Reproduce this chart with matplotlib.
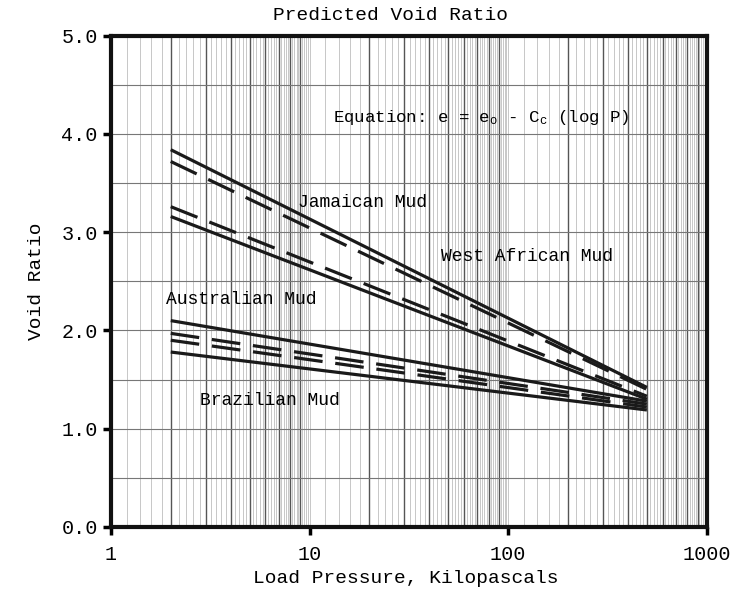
import numpy as np
import matplotlib
matplotlib.use("Agg")
import matplotlib.pyplot as plt
from matplotlib.ticker import FixedLocator, NullFormatter

plt.rcParams['font.family'] = ['Liberation Mono', 'DejaVu Sans Mono']
plt.rcParams['mathtext.fontset'] = 'custom'
plt.rcParams['mathtext.rm'] = 'Liberation Mono'
plt.rcParams['mathtext.it'] = 'Liberation Mono'

# Load pressure range (kPa) for each line
pressure = [2, 500]

# Upper group (Jamaican / West African mud): void ratio at start and end pressure
jam_solid = [3.84, 1.42]
jam_dashed = [3.72, 1.40]
wa_dashed = [3.26, 1.33]
wa_solid = [3.16, 1.30]

# Lower group (Australian / Brazilian mud)
aus_solid = [2.10, 1.28]
aus_dashed = [1.97, 1.25]
bra_dashed = [1.90, 1.22]
bra_solid = [1.78, 1.19]

x_ticks = [1, 10, 100, 1000]
x_ticklabels = ["1", "10", "100", "1000"]
y_ticks = [0, 1, 2, 3, 4, 5]
y_ticklabels = ["0.0", "1.0", "2.0", "3.0", "4.0", "5.0"]

fig = plt.figure(figsize=(7.3, 5.96), dpi=100)
ax = fig.add_axes([0.152, 0.116, 0.816, 0.824])
ax.set_xscale('log')
ax.set_xlim(1, 1000)
ax.set_ylim(0, 5)

# semi-log graph paper grid
fine = []
for dec in [1, 10, 100]:
    for v in np.arange(1.0, 10.0, 0.2):
        fine.append(dec * v)
for f in fine:
    ax.axvline(f, color='#b0b0b0', lw=0.5, zorder=0)
for dec in [1, 10, 100]:
    for m in range(2, 10):
        ax.axvline(dec * m, color='#555555', lw=1.0, zorder=0)
for h in np.arange(0.5, 5.0, 0.5):
    ax.axhline(h, color='#777777', lw=0.8, zorder=0)

lw = 2.3
dash = (0, (9, 4))
ax.plot(pressure, jam_solid, color='#1a1a1a', lw=lw, solid_capstyle='butt')
ax.plot(pressure, jam_dashed, color='#1a1a1a', lw=lw, linestyle=dash)
ax.plot(pressure, wa_dashed, color='#1a1a1a', lw=lw, linestyle=dash)
ax.plot(pressure, wa_solid, color='#1a1a1a', lw=lw, solid_capstyle='butt')
ax.plot(pressure, aus_solid, color='#1a1a1a', lw=lw, solid_capstyle='butt')
ax.plot(pressure, aus_dashed, color='#1a1a1a', lw=lw, linestyle=dash)
ax.plot(pressure, bra_dashed, color='#1a1a1a', lw=lw, linestyle=dash)
ax.plot(pressure, bra_solid, color='#1a1a1a', lw=lw, solid_capstyle='butt')

fs = 13
ax.text(8.7, 3.30, "Jamaican Mud", fontsize=fs, va='center', ha='left')
ax.text(46, 2.75, "West African Mud", fontsize=fs, va='center', ha='left')
ax.text(1.9, 2.31, "Australian Mud", fontsize=fs, va='center', ha='left')
ax.text(2.8, 1.29, "Brazilian Mud", fontsize=fs, va='center', ha='left')
ax.text(13.1, 4.17, r"Equation: e = e$_\mathregular{o}$ - C$_\mathregular{c}$ (log P)",
        fontsize=12.5, va='center', ha='left')

ax.xaxis.set_major_locator(FixedLocator(x_ticks))
ax.set_xticklabels(x_ticklabels)
ax.xaxis.set_minor_formatter(NullFormatter())
ax.tick_params(axis='x', which='minor', length=0)
ax.set_yticks(y_ticks)
ax.set_yticklabels(y_ticklabels)
ax.tick_params(axis='both', which='major', direction='out', length=6, width=2.5,
               labelsize=14.5, color='black')
ax.tick_params(axis='x', pad=7)

for s in ax.spines.values():
    s.set_linewidth(3.0)
    s.set_color('#111111')

ax.set_title("Predicted Void Ratio", fontsize=14, pad=11, x=0.47)
ax.set_xlabel("Load Pressure, Kilopascals", fontsize=14, labelpad=0)
ax.xaxis.set_label_coords(0.495, -0.088)
ax.set_ylabel("Void Ratio", fontsize=14, labelpad=12)

fig.savefig("out.png", dpi=100)
